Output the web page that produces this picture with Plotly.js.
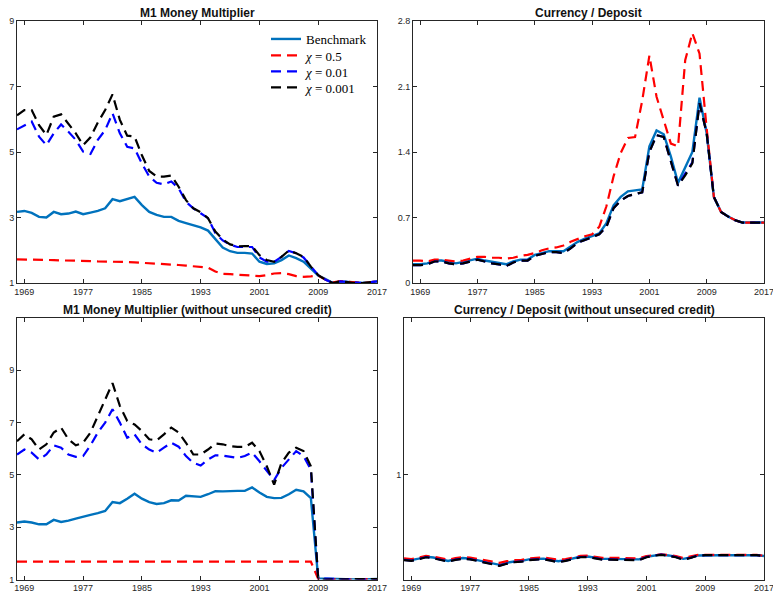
<!DOCTYPE html>
<html>
<head>
<meta charset="utf-8">
<script src="https://cdn.plot.ly/plotly-3.0.1.min.js"></script>
<style>html,body{margin:0;padding:0;background:#fff;}#chart{width:773px;height:595px;}</style>
</head>
<body>
<div id="chart"></div>
<script>
const years = [1968,1969,1970,1971,1972,1973,1974,1975,1976,1977,
  1978,1979,1980,1981,1982,1983,1984,1985,1986,1987,
  1988,1989,1990,1991,1992,1993,1994,1995,1996,1997,
  1998,1999,2000,2001,2002,2003,2004,2005,2006,2007,
  2008,2009,2010,2011,2012,2013,2014,2015,2016,2017];
const xTicks = [1969,1977,1985,1993,2001,2009,2017];
const seriesNames = ['Benchmark','<i>χ</i> = 0.5','<i>χ</i> = 0.01','<i>χ</i> = 0.001'];
const panelTitles = ['M1 Money Multiplier','Currency / Deposit',
  'M1 Money Multiplier (without unsecured credit)','Currency / Deposit (without unsecured credit)'];

// Panel 1: M1 Money Multiplier
const mm_bench = [3.17,3.20,3.14,3.02,3.00,3.17,3.10,3.12,3.18,3.10,
  3.15,3.20,3.28,3.56,3.50,3.56,3.63,3.38,3.17,3.08,
  3.02,3.02,2.90,2.83,2.76,2.70,2.60,2.34,2.08,1.97,
  1.92,1.92,1.90,1.65,1.58,1.60,1.70,1.84,1.76,1.65,
  1.44,1.23,1.12,1.00,1.05,1.03,1.00,1.00,1.02,1.05];
const mm_chi05 = [1.72,1.72,1.71,1.71,1.70,1.70,1.69,1.69,1.68,1.67,
  1.67,1.66,1.66,1.65,1.65,1.64,1.63,1.62,1.61,1.60,
  1.58,1.57,1.55,1.53,1.51,1.50,1.47,1.35,1.28,1.27,
  1.26,1.24,1.22,1.21,1.24,1.29,1.30,1.27,1.21,1.19,
  1.20,1.23,1.10,1.02,1.06,1.04,1.01,1.00,1.02,1.05];
const mm_chi001 = [5.69,5.82,5.93,5.47,5.21,5.57,5.84,5.62,5.37,5.01,
  4.94,5.37,5.67,6.18,5.57,5.16,5.11,4.65,4.25,4.06,
  4.01,4.10,3.89,3.48,3.28,3.13,2.98,2.52,2.30,2.17,
  2.10,2.10,2.10,1.78,1.65,1.65,1.80,1.98,1.91,1.78,
  1.50,1.24,1.10,1.00,1.05,1.03,1.00,1.00,1.02,1.05];
const mm_chi0001 = [6.12,6.28,6.28,5.82,5.52,6.08,6.15,5.85,5.57,5.21,
  5.45,5.90,6.28,6.76,5.98,5.50,5.47,4.90,4.42,4.25,
  4.25,4.28,3.94,3.53,3.28,3.16,2.98,2.57,2.33,2.18,
  2.12,2.13,2.12,1.85,1.70,1.65,1.80,1.99,1.91,1.80,
  1.50,1.24,1.10,1.00,1.05,1.03,1.00,1.00,1.02,1.05];

// Panel 2: Currency / Deposit
const cd_bench = [0.20,0.20,0.21,0.24,0.24,0.225,0.21,0.225,0.24,0.26,
  0.24,0.225,0.21,0.20,0.23,0.25,0.25,0.30,0.32,0.34,
  0.34,0.34,0.39,0.44,0.475,0.50,0.53,0.64,0.83,0.92,
  0.98,0.99,1.00,1.46,1.63,1.59,1.35,1.07,1.24,1.40,
  1.98,1.60,0.92,0.76,0.71,0.67,0.646,0.646,0.646,0.646];
const cd_chi05 = [0.24,0.24,0.23,0.25,0.25,0.24,0.23,0.24,0.26,0.28,
  0.28,0.27,0.27,0.26,0.27,0.29,0.30,0.32,0.35,0.37,
  0.38,0.40,0.44,0.47,0.50,0.52,0.60,0.82,1.14,1.39,
  1.55,1.56,1.95,2.43,1.99,1.74,1.49,1.46,2.38,2.67,
  2.45,1.65,0.92,0.76,0.71,0.67,0.646,0.646,0.646,0.646];
const cd_chi001 = [0.19,0.19,0.20,0.23,0.23,0.21,0.20,0.21,0.23,0.25,
  0.23,0.21,0.20,0.18,0.22,0.24,0.24,0.29,0.31,0.33,
  0.33,0.32,0.37,0.43,0.46,0.49,0.52,0.60,0.80,0.88,
  0.93,0.95,0.97,1.40,1.58,1.56,1.30,1.04,1.17,1.29,
  1.92,1.60,0.92,0.76,0.71,0.67,0.646,0.646,0.646,0.646];
const cd_chi0001 = [0.19,0.19,0.20,0.23,0.23,0.21,0.20,0.21,0.23,0.25,
  0.23,0.21,0.20,0.18,0.22,0.24,0.24,0.29,0.31,0.33,
  0.33,0.32,0.37,0.43,0.46,0.49,0.52,0.60,0.80,0.88,
  0.93,0.95,0.97,1.40,1.58,1.56,1.30,1.04,1.15,1.28,
  1.92,1.60,0.92,0.76,0.71,0.67,0.646,0.646,0.646,0.646];

// Panel 3: M1 Money Multiplier (without unsecured credit)
const mmu_bench = [3.18,3.22,3.18,3.11,3.11,3.28,3.20,3.25,3.33,3.41,
  3.47,3.54,3.62,3.96,3.92,4.09,4.28,4.09,3.96,3.89,
  3.92,4.03,4.02,4.20,4.18,4.16,4.26,4.38,4.37,4.39,
  4.39,4.39,4.52,4.33,4.16,4.11,4.12,4.26,4.43,4.37,
  4.11,1.04,1.03,1.01,1.00,1.00,1.00,1.00,1.01,1.02];
const mmu_chi05 = [1.68,1.68,1.68,1.68,1.68,1.68,1.68,1.68,1.68,1.68,
  1.68,1.68,1.68,1.68,1.68,1.68,1.68,1.68,1.68,1.68,
  1.68,1.68,1.68,1.68,1.68,1.68,1.68,1.68,1.68,1.68,
  1.68,1.68,1.68,1.68,1.68,1.68,1.68,1.68,1.68,1.68,
  1.68,1.02,1.01,1.00,1.00,1.00,1.00,1.00,1.01,1.02];
const mmu_chi001 = [5.78,5.97,5.85,5.59,5.78,6.13,6.04,5.78,5.69,5.72,
  6.13,6.62,7.00,7.51,7.00,6.42,6.55,6.17,5.97,5.85,
  6.04,6.23,6.08,5.72,5.46,5.36,5.59,5.75,5.74,5.69,
  5.65,5.72,5.85,5.52,5.14,4.80,5.27,5.59,5.91,5.72,
  5.20,1.04,1.03,1.01,1.00,1.00,1.00,1.00,1.01,1.02];
const mmu_chi0001 = [6.29,6.55,6.36,5.97,6.17,6.62,6.81,6.36,6.13,6.23,
  6.62,7.26,7.83,8.51,7.64,7.06,6.93,6.68,6.36,6.32,
  6.55,6.81,6.62,6.23,5.78,5.78,5.97,6.20,6.17,6.10,
  6.07,6.07,6.23,5.91,5.33,4.63,5.46,5.85,6.04,5.91,
  5.33,1.00,1.00,1.00,1.00,1.00,1.00,1.00,1.01,1.02];

// Panel 4: Currency / Deposit (without unsecured credit)
const cdu_bench = [0.677,0.674,0.680,0.687,0.684,0.677,0.671,0.678,0.682,0.680,
  0.674,0.667,0.661,0.656,0.664,0.669,0.671,0.677,0.679,0.680,
  0.675,0.670,0.674,0.680,0.687,0.688,0.683,0.679,0.679,0.679,
  0.679,0.679,0.677,0.687,0.692,0.695,0.692,0.687,0.679,0.684,
  0.692,0.693,0.693,0.693,0.693,0.693,0.693,0.693,0.693,0.690];
const cdu_chi05 = [0.681,0.678,0.684,0.690,0.688,0.681,0.676,0.682,0.686,0.684,
  0.679,0.673,0.668,0.664,0.670,0.674,0.675,0.681,0.683,0.684,
  0.680,0.676,0.678,0.684,0.690,0.691,0.687,0.683,0.683,0.683,
  0.683,0.683,0.681,0.690,0.694,0.696,0.694,0.690,0.682,0.687,
  0.694,0.694,0.694,0.694,0.694,0.694,0.694,0.694,0.694,0.691];
const cdu_chi001 = [0.675,0.672,0.678,0.686,0.682,0.675,0.669,0.676,0.680,0.678,
  0.672,0.664,0.658,0.653,0.661,0.667,0.669,0.675,0.677,0.678,
  0.673,0.667,0.672,0.678,0.686,0.687,0.681,0.677,0.677,0.677,
  0.677,0.677,0.675,0.686,0.692,0.695,0.692,0.686,0.677,0.683,
  0.692,0.693,0.693,0.693,0.693,0.693,0.693,0.693,0.693,0.690];
const cdu_chi0001 = [0.674,0.671,0.677,0.685,0.681,0.674,0.668,0.675,0.679,0.677,
  0.671,0.663,0.657,0.652,0.660,0.666,0.668,0.674,0.676,0.677,
  0.672,0.666,0.671,0.677,0.685,0.686,0.680,0.676,0.676,0.676,
  0.676,0.676,0.674,0.685,0.691,0.694,0.691,0.685,0.676,0.682,
  0.692,0.693,0.693,0.693,0.693,0.693,0.693,0.693,0.693,0.690];

const colors = ['#0072BD','#FF0000','#0000FF','#000000'];
const dashes = ['solid','10px,6px','10px,6px','10px,6px'];
const widths = [2.4,2.2,2.2,2.2];
const legendIds = ['legend','legend2','legend3','legend4'];

const panels = [
  [mm_bench, mm_chi05, mm_chi001, mm_chi0001],
  [cd_bench, cd_chi05, cd_chi001, cd_chi0001],
  [mmu_bench, mmu_chi05, mmu_chi001, mmu_chi0001],
  [cdu_bench, cdu_chi05, cdu_chi001, cdu_chi0001]
];

const traces = [];
panels.forEach((series, p) => {
  const ax = p === 0 ? '' : String(p + 1);
  series.forEach((vals, s) => {
    traces.push({
      x: years, y: vals, type: 'scatter', mode: 'lines',
      name: seriesNames[s],
      showlegend: p === 0,
      legend: legendIds[s],
      xaxis: 'x' + ax, yaxis: 'y' + ax,
      line: {color: colors[s], width: widths[s], dash: dashes[s]},
      hoverinfo: 'skip'
    });
  });
});

const W = 773, H = 595;
const axColor = '#262626';
function xax(l, r) {
  return {
    domain: [l / W, r / W], range: [1968, 2017], tickvals: xTicks,
    ticks: 'inside', ticklen: 4, tickcolor: axColor, showline: true, linecolor: axColor,
    linewidth: 1, mirror: 'ticks', showgrid: false, zeroline: false,
    ticklabeloverflow: 'allow',
    tickfont: {family: 'Liberation Sans, Arial, sans-serif', size: 9, color: axColor}
  };
}
function yax(t, b, range, ticks, anchor) {
  return {
    domain: [1 - b / H, 1 - t / H], range: range, tickvals: ticks, anchor: anchor,
    ticks: 'inside', ticklen: 4, tickcolor: axColor, showline: true, linecolor: axColor,
    linewidth: 1, mirror: 'ticks', showgrid: false, zeroline: false,
    ticklabeloverflow: 'allow',
    tickfont: {family: 'Liberation Sans, Arial, sans-serif', size: 9, color: axColor}
  };
}

const legendRows = [39, 55.5, 71.5, 87.5];
function legendAt(rowY) {
  return {
    x: 266 / W, y: 1 - rowY / H, xanchor: 'left', yanchor: 'middle',
    bgcolor: 'rgba(0,0,0,0)', borderwidth: 0,
    font: {family: 'Liberation Serif, DejaVu Serif, serif', size: 13, color: '#000'}
  };
}

const layout = {
  width: W, height: H,
  margin: {l: 0, r: 0, t: 0, b: 0},
  paper_bgcolor: '#fff', plot_bgcolor: '#fff',
  showlegend: true,
  legend: legendAt(legendRows[0]),
  legend2: legendAt(legendRows[1]),
  legend3: legendAt(legendRows[2]),
  legend4: legendAt(legendRows[3]),
  xaxis: Object.assign(xax(17, 377), {anchor: 'y'}),
  yaxis: yax(21, 283, [1, 9], [1, 3, 5, 7, 9], 'x'),
  xaxis2: Object.assign(xax(413, 764), {anchor: 'y2'}),
  yaxis2: yax(21, 283, [0, 2.8], [0, 0.7, 1.4, 2.1, 2.8], 'x2'),
  xaxis3: Object.assign(xax(17, 377), {anchor: 'y3'}),
  yaxis3: yax(318, 579.5, [1, 11], [1, 3, 5, 7, 9], 'x3'),
  xaxis4: Object.assign(xax(404, 764), {anchor: 'y4'}),
  yaxis4: yax(318, 579.5, [0.6, 1.6], [1], 'x4'),
  annotations: [
    [panelTitles[0], 197, 12.5], [panelTitles[1], 588.5, 12.5],
    [panelTitles[2], 197, 310], [panelTitles[3], 584, 310]
  ].map(a => ({
    text: '<b>' + a[0] + '</b>', xref: 'paper', yref: 'paper',
    x: a[1] / W, y: 1 - a[2] / H, xanchor: 'center', yanchor: 'middle',
    showarrow: false, font: {family: 'Liberation Sans, Arial, sans-serif', size: 12, color: '#111'}
  }))
};

Plotly.newPlot('chart', traces, layout, {staticPlot: true, displayModeBar: false});
</script>
</body>
</html>
